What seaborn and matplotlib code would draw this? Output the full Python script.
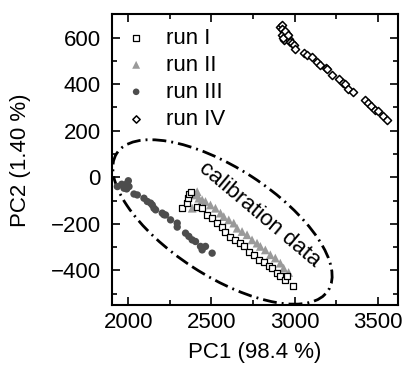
import numpy as np
import pandas as pd
import matplotlib
matplotlib.use("Agg")
import matplotlib.pyplot as plt
import seaborn as sns
from matplotlib.patches import Ellipse
from matplotlib.transforms import ScaledTranslation
from matplotlib.ticker import MultipleLocator

# ---------------- data ----------------
run1_x = [2320, 2350, 2358, 2364, 2374, 2414, 2444, 2474, 2504, 2534, 2564, 2584, 2614,
          2644, 2674, 2694, 2724, 2754, 2784, 2814, 2844, 2864, 2894, 2914, 2944, 2954, 2990]
run1_y = [-133, -109, -90, -72, -62, -126, -133, -162, -176, -197, -212, -233, -255,
          -269, -283, -297, -319, -333, -354, -362, -383, -390, -411, -426, -440, -423, -466]

run2_x = [2384, 2404, 2414, 2424, 2444, 2464, 2494, 2524, 2554, 2574, 2604, 2634, 2654,
          2684, 2714, 2744, 2774, 2794, 2824, 2854, 2884, 2914, 2934, 2964]
run2_y = [-133, -76, -62, -90, -97, -104, -119, -133, -154, -169, -183, -197, -219,
          -233, -247, -269, -283, -297, -312, -333, -347, -369, -390, -409]

run3_x = [1934, 1960, 1974, 1984, 1994, 2000, 1990, 2004, 2034, 2054, 2094, 2114, 2134,
          2144, 2154, 2164, 2204, 2214, 2224, 2254, 2294, 2294, 2344, 2364, 2384, 2404,
          2434, 2444, 2464, 2504]
run3_y = [-40, -30, -47, -33, -26, -15, -50, -40, -72, -76, -90, -104, -111,
          -119, -133, -140, -154, -161, -162, -183, -197, -214, -240, -254, -269, -276,
          -297, -312, -297, -326]

run4_x = [2915, 2924, 2924, 2934, 2924, 2944, 2954, 2934, 2964, 2940, 2930, 2960, 2974,
          2985, 2994, 3004, 3054, 3074, 3104, 3134, 3154, 3190, 3194, 3224, 3264, 3290,
          3304, 3324, 3354, 3424, 3444, 3460, 3484, 3504, 3534, 3558]
run4_y = [645, 653, 639, 624, 610, 603, 617, 589, 596, 630, 600, 610, 581,
          575, 567, 553, 534, 525, 517, 495, 481, 470, 463, 438, 424, 405,
          400, 381, 367, 334, 317, 305, 291, 284, 263, 246]

labels = ["run I", "run II", "run III", "run IV"]

# ellipse annotation (center in data units, size in inches, angle in degrees)
ell_center = (2566, -192)
ell_w, ell_h, ell_angle = 2.52, 1.08, -33

# ---------------- plot ----------------
sns.set_style("ticks")
plt.rcParams["font.family"] = ["Liberation Sans", "DejaVu Sans"]
plt.rcParams["font.size"] = 16
plt.rcParams["text.color"] = "black"
plt.rcParams["axes.labelcolor"] = "black"
plt.rcParams["xtick.color"] = "black"
plt.rcParams["ytick.color"] = "black"

fig = plt.figure(figsize=(4.08, 3.79), dpi=100)
ax = fig.add_axes([111.7 / 408, (379 - 305.3) / 379, 286 / 408, 291 / 379])

df1 = pd.DataFrame({"x": run1_x, "y": run1_y})
df2 = pd.DataFrame({"x": run2_x, "y": run2_y})
df3 = pd.DataFrame({"x": run3_x, "y": run3_y})
df4 = pd.DataFrame({"x": run4_x, "y": run4_y})

sns.scatterplot(data=df1, x="x", y="y", ax=ax, marker="s", s=20, facecolor="white",
                edgecolor="black", linewidth=0.9, label=labels[0], zorder=3)
sns.scatterplot(data=df2, x="x", y="y", ax=ax, marker="^", s=40, color="#9a9a9a",
                edgecolor="none", linewidth=0, label=labels[1], zorder=2)
sns.scatterplot(data=df3, x="x", y="y", ax=ax, marker="o", s=28, color="#4d4d4d",
                edgecolor="none", linewidth=0, label=labels[2], zorder=2)
sns.scatterplot(data=df4, x="x", y="y", ax=ax, marker="D", s=17, facecolor="white",
                edgecolor="black", linewidth=1.1, label=labels[3], zorder=3)

ax.set_xlim(1900, 3620)
ax.set_ylim(-550, 700)
ax.xaxis.set_major_locator(MultipleLocator(500))
ax.xaxis.set_minor_locator(MultipleLocator(250))
ax.yaxis.set_major_locator(MultipleLocator(200))
ax.yaxis.set_minor_locator(MultipleLocator(100))
ax.tick_params(which="both", direction="in", top=True, right=True, width=1.2,
               labelsize=16, color="black", labelcolor="black")
ax.tick_params(which="major", length=6)
ax.tick_params(axis="y", which="major", pad=8)
ax.tick_params(axis="x", which="major", pad=5)
ax.tick_params(which="minor", length=3.5)
for sp in ax.spines.values():
    sp.set_linewidth(1.5)
    sp.set_color("black")

ax.set_xlabel("PC1 (98.4 %)", fontsize=16, labelpad=6)
ax.set_ylabel("PC2 (1.40 %)", fontsize=16, labelpad=14)

e = Ellipse((0, 0), width=ell_w, height=ell_h, angle=ell_angle, fill=False,
            edgecolor="black", linewidth=2.0, linestyle=(0, (5, 1.8, 0.7, 1.8)),
            transform=fig.dpi_scale_trans + ScaledTranslation(ell_center[0], ell_center[1], ax.transData))
ax.add_patch(e)

ax.text(2788, -162, "calibration data", rotation=-40, rotation_mode="anchor",
        ha="center", va="center", fontsize=16)

leg = ax.legend(loc="upper left", frameon=False, fontsize=16, handletextpad=0.85,
                labelspacing=0.27, borderaxespad=0.1, borderpad=0.5,
                handlelength=1.0, markerscale=0.9)

fig.savefig("out.png", dpi=100)
